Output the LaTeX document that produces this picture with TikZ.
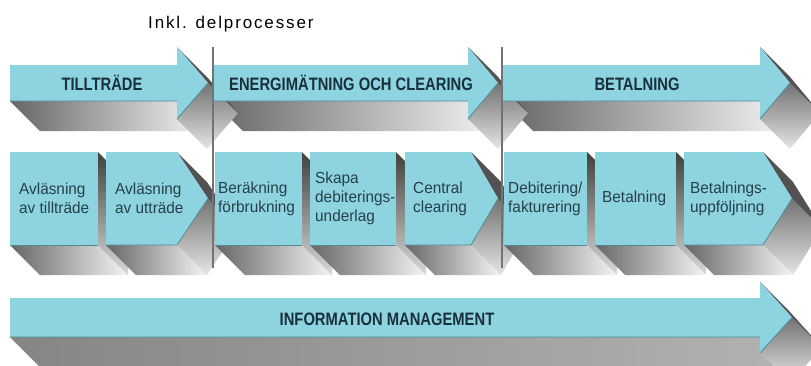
\documentclass[tikz,border=0pt]{standalone}
\usepackage{fontspec}
\setmainfont{Liberation Sans}
\newfontfamily\headfont{Liberation Sans}[FakeStretch=0.82]
\newfontfamily\stepfont{Liberation Sans}[FakeStretch=0.96]
\newfontfamily\notefont{Liberation Sans}[LetterSpace=11]

\definecolor{slab}{RGB}{142, 211, 224}
\definecolor{slabedge}{RGB}{78, 138, 148}
\definecolor{headtext}{RGB}{25, 48, 58}
\definecolor{steptext}{RGB}{38, 64, 74}

\tikzset{
	slabfront/.style={fill=slab},
	%
	slabrim/.style={draw=slabedge, line width=0.8pt},
	%
	slabfloor/.style={left color=black!60, right color=black!4},
	%
	slabside/.style={top color=black!75, bottom color=black!15},
	%
	slabslope/.style={top color=black!55, bottom color=black!10},
	%
	slabridge/.style={fill=black!68},
	%
	divider/.style={draw=black!55, line width=1.1pt},
	%
	phaselabel/.style={
		font={\headfont\bfseries\fontsize{18}{20}\selectfont}, text=headtext, anchor=base
	},
	%
	steplabel/.style={
		font={\stepfont\fontsize{16}{19}\selectfont}, text=steptext,
		align=left, anchor=west, inner sep=0pt
	},
	%
	notelabel/.style={
		font={\notefont\fontsize{17}{19}\selectfont}, anchor=base west, inner sep=0pt
	}
}
\def\slabdepth{30}

% extruded arrow: tail x, head base x, tip x, centre y, half shaft, half head
\newcommand{\arrowshade}[6]{%
	\pgfmathsetmacro\shb{#4+#5}\pgfmathsetmacro\hha{#4-#6}\pgfmathsetmacro\hhb{#4+#6}%
	\path[slabfloor] (#1,\shb) -- (#2,\shb) -- (#2+\slabdepth,\shb+\slabdepth) -- (#1+\slabdepth,\shb+\slabdepth) -- cycle;
	\path[slabslope] (#3,#4) -- (#2,\hhb) -- (#2+\slabdepth,\hhb+\slabdepth) -- (#3+\slabdepth,#4+\slabdepth) -- cycle;
	\path[slabridge] (#2,\hha) -- (#3,#4) -- (#3+\slabdepth,#4+\slabdepth) -- (#2+\slabdepth,\hha+\slabdepth) -- cycle;
}
\newcommand{\arrowface}[6]{%
	\pgfmathsetmacro\sha{#4-#5}\pgfmathsetmacro\shb{#4+#5}%
	\pgfmathsetmacro\hha{#4-#6}\pgfmathsetmacro\hhb{#4+#6}%
	\path[slabfront] (#1,\sha) -- (#2,\sha) -- (#2,\hha) -- (#3,#4) -- (#2,\hhb) -- (#2,\shb) -- (#1,\shb) -- cycle;
	\draw[slabrim] (#1,\shb) -- (#2,\shb) (#2,\hhb) -- (#3,#4);
}
% extruded box: left x, right x, top y, bottom y
\newcommand{\boxshade}[4]{%
	\path[slabfloor] (#1,#4) -- (#2,#4) -- (#2+\slabdepth,#4+\slabdepth) -- (#1+\slabdepth,#4+\slabdepth) -- cycle;
	\path[slabside] (#2,#3) -- (#2,#4) -- (#2+\slabdepth,#4+\slabdepth) -- (#2+\slabdepth,#3+\slabdepth) -- cycle;
}
\newcommand{\boxface}[4]{%
	\path[slabfront] (#1,#3) rectangle (#2,#4);
	\draw[slabrim] (#1,#4) -- (#2,#4);
}

\begin{document}
\begin{tikzpicture}[x=1pt, y=-1pt]
\useasboundingbox (0,0) rectangle (811,365);
\clip (0,0) rectangle (811,365);

% phases
\arrowshade{503}{760}{790}{83}{18}{36}
\arrowshade{213}{468}{498}{83}{18}{36}
\arrowshade{10}{177}{208}{83}{18}{36}
\arrowface{10}{177}{208}{83}{18}{36}
\arrowface{213}{468}{498}{83}{18}{36}
\arrowface{503}{760}{790}{83}{18}{36}

% sub processes
\boxshade{10}{98}{152}{245}
\arrowshade{106}{177}{208}{198.5}{46.5}{46.5}
\boxshade{215}{302}{152}{245}
\boxshade{310}{396}{152}{245}
\arrowshade{405}{471}{498}{198.5}{46.5}{46.5}
\boxshade{504}{587}{152}{245}
\boxshade{595}{676}{152}{245}
\arrowshade{684}{763}{792}{198.5}{46.5}{46.5}
\boxface{10}{98}{152}{245}
\arrowface{106}{177}{208}{198.5}{46.5}{46.5}
\boxface{215}{302}{152}{245}
\boxface{310}{396}{152}{245}
\arrowface{405}{471}{498}{198.5}{46.5}{46.5}
\boxface{504}{587}{152}{245}
\boxface{595}{676}{152}{245}
\arrowface{684}{763}{792}{198.5}{46.5}{46.5}

% information management
\begin{scope}[slabfloor/.style={left color=black!48, right color=black!30}]
\arrowshade{10}{760}{792}{317.5}{19.5}{35.5}
\end{scope}
\arrowface{10}{760}{792}{317.5}{19.5}{35.5}

\draw[divider] (213,47) -- (213,268);
\draw[divider] (502,47) -- (502,268);

\node(inkl)[notelabel] at (148,28) {Inkl. delprocesser};
\node(tilltrade)[phaselabel] at (102,90) {TILLTRÄDE};
\node(energi)[phaselabel] at (351,90) {ENERGIMÄTNING OCH CLEARING};
\node(betalning)[phaselabel] at (637,90) {BETALNING};
\node(infomgmt)[phaselabel] at (387,325) {INFORMATION MANAGEMENT};

\node(avltill)[steplabel] at (19,198.5) {Avläsning\\av tillträde};
\node(avlut)[steplabel] at (115,198.5) {Avläsning\\av utträde};
\node(berakning)[steplabel] at (218,198.5) {Beräkning\\förbrukning};
\node(skapa)[steplabel] at (315,198.5) {Skapa\\debiterings-\\underlag};
\node(central)[steplabel] at (413,198.5) {Central\\clearing};
\node(debitering)[steplabel] at (508,198.5) {Debitering/\\fakturering};
\node(betalsteg)[steplabel] at (602,198.5) {Betalning};
\node(uppfoljning)[steplabel] at (690,198.5) {Betalnings-\\uppföljning};
\end{tikzpicture}
\end{document}
